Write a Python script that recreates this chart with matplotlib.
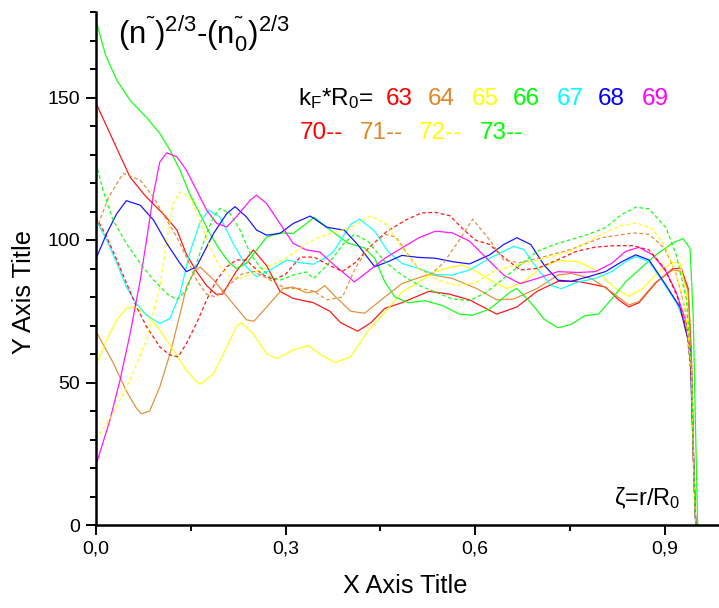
import matplotlib
matplotlib.use('Agg')
import matplotlib.pyplot as plt
from matplotlib.ticker import FixedLocator, FuncFormatter

plt.rcParams['font.family'] = ['Liberation Sans', 'DejaVu Sans']
plt.rcParams['mathtext.fontset'] = 'custom'
plt.rcParams['mathtext.rm'] = 'Liberation Sans'
plt.rcParams['mathtext.it'] = 'Liberation Sans'
plt.rcParams['mathtext.bf'] = 'Liberation Sans:bold'

# ---------------- data (xi = r/R0, value) ----------------
labels = ['63', '64', '65', '66', '67', '68', '69', '70', '71', '72', '73']
colors = ['#FF0000', '#E0862A', '#FFFF00', '#00FF00', '#00FFFF', '#0000FF', '#FF00FF',
          '#FF0000', '#E0862A', '#FFFF00', '#00FF00']
dashed = [False] * 7 + [True] * 4

xi63 = [0, 0.027, 0.054, 0.080, 0.107, 0.128, 0.143, 0.159, 0.175, 0.190, 0.200, 0.222, 0.249, 0.270, 0.291, 0.312, 0.344, 0.370, 0.387, 0.414, 0.435, 0.457, 0.484, 0.527, 0.559, 0.591, 0.634, 0.666, 0.698, 0.731, 0.763, 0.806, 0.827, 0.843, 0.859, 0.886, 0.913, 0.926, 0.937, 0.942, 0.946, 0.949]
v63 = [148, 135, 122, 115, 109, 103.5, 95, 89, 84, 81, 81, 89, 96.5, 91, 82, 79.5, 78, 75, 71, 68, 71, 76, 78, 82, 81, 79, 74, 76.5, 82, 85.5, 85.5, 83.5, 79, 76.5, 78, 85, 90, 90, 83, 60, 20, 0]

xi64 = [0, 0.027, 0.048, 0.064, 0.072, 0.085, 0.101, 0.117, 0.133, 0.143, 0.157, 0.165, 0.186, 0.212, 0.238, 0.250, 0.270, 0.296, 0.312, 0.333, 0.350, 0.362, 0.377, 0.403, 0.425, 0.457, 0.484, 0.527, 0.564, 0.602, 0.634, 0.661, 0.698, 0.731, 0.752, 0.784, 0.816, 0.843, 0.859, 0.886, 0.913, 0.926, 0.937, 0.942, 0.946, 0.949]
v64 = [68, 57, 47, 41, 39, 40, 48.5, 60, 74, 83.5, 89.5, 90.5, 86, 79, 72, 71.5, 76.5, 83, 83.5, 81.5, 82, 84, 80.5, 75, 74.3, 80, 84.7, 88, 86.5, 83, 79, 79.3, 83, 87.7, 88.3, 86.5, 81.7, 77.2, 78.4, 85.3, 89.5, 89, 82, 58, 18, 0]

xi65 = [0, 0.017, 0.033, 0.048, 0.059, 0.080, 0.101, 0.122, 0.143, 0.159, 0.165, 0.186, 0.207, 0.222, 0.230, 0.249, 0.270, 0.286, 0.312, 0.336, 0.354, 0.378, 0.403, 0.430, 0.457, 0.484, 0.511, 0.537, 0.564, 0.580, 0.602, 0.629, 0.650, 0.677, 0.704, 0.731, 0.763, 0.790, 0.822, 0.843, 0.865, 0.891, 0.913, 0.924, 0.935, 0.941, 0.946, 0.949]
v65 = [56, 65, 72, 76, 76.6, 74, 68.4, 61.4, 54.3, 50.3, 49.4, 53, 62.5, 69.6, 71, 67, 60, 58.4, 61.4, 63, 60, 57, 59, 68, 74.6, 81.7, 85.3, 88.9, 90.6, 91.2, 88.9, 85.3, 83, 85.3, 90.3, 92.8, 92.4, 89.5, 83, 80.2, 83, 89, 92.2, 91.8, 80, 55, 18, 0]

xi66 = [0, 0.015, 0.033, 0.054, 0.080, 0.101, 0.117, 0.133, 0.148, 0.164, 0.180, 0.196, 0.212, 0.222, 0.238, 0.254, 0.270, 0.291, 0.312, 0.333, 0.345, 0.366, 0.398, 0.425, 0.441, 0.457, 0.473, 0.494, 0.521, 0.548, 0.575, 0.596, 0.623, 0.655, 0.666, 0.688, 0.709, 0.731, 0.752, 0.773, 0.795, 0.816, 0.838, 0.859, 0.886, 0.913, 0.929, 0.940, 0.945, 0.949, 0.952]
v66 = [177, 165, 156, 149, 143, 137.4, 131.5, 124.5, 116.3, 109.3, 102.3, 96.5, 91.8, 90, 91.8, 96.5, 101, 102.5, 102.3, 105.8, 108, 104.3, 99, 97.2, 93.6, 85.3, 80, 78, 78.7, 77, 74, 73.6, 75.8, 81.7, 83, 78, 72.2, 69.2, 70.4, 73.4, 74, 79.3, 85.3, 89.5, 94.8, 99, 100.5, 97, 73, 30, 0]

xi67 = [0, 0.017, 0.033, 0.048, 0.064, 0.080, 0.101, 0.117, 0.133, 0.148, 0.164, 0.178, 0.196, 0.217, 0.238, 0.254, 0.275, 0.302, 0.323, 0.344, 0.365, 0.376, 0.403, 0.417, 0.441, 0.462, 0.484, 0.510, 0.537, 0.564, 0.591, 0.623, 0.661, 0.677, 0.698, 0.720, 0.736, 0.763, 0.790, 0.816, 0.838, 0.854, 0.875, 0.897, 0.918, 0.934, 0.942, 0.946, 0.949]
v67 = [107, 100, 91.8, 83.6, 77.7, 73.6, 70.7, 72.5, 81.2, 95.3, 105.8, 110.5, 108.1, 98.8, 90.6, 87.1, 89.4, 93, 92, 91.5, 94, 96, 105.5, 107.3, 103.1, 96, 91.8, 90, 87.9, 87.7, 89.5, 93.6, 97.8, 96.6, 90, 84.1, 82.9, 85.3, 86.5, 88.9, 92.4, 94.2, 92.4, 85.3, 78.1, 69.8, 55, 18, 0]

xi68 = [0, 0.017, 0.033, 0.048, 0.070, 0.091, 0.112, 0.133, 0.143, 0.159, 0.186, 0.207, 0.220, 0.238, 0.254, 0.270, 0.291, 0.312, 0.339, 0.365, 0.393, 0.414, 0.441, 0.462, 0.484, 0.510, 0.537, 0.564, 0.591, 0.623, 0.645, 0.666, 0.688, 0.709, 0.731, 0.752, 0.779, 0.806, 0.832, 0.854, 0.875, 0.902, 0.924, 0.940, 0.945, 0.949]
v68 = [93.5, 102.3, 109.3, 113.8, 112.2, 107, 98.8, 91.8, 88.9, 90.6, 102.3, 109.3, 111.7, 108.1, 103.5, 101.7, 102.3, 105.8, 108.4, 104.5, 103.4, 98.4, 90.6, 92.4, 94.6, 93.9, 93.6, 92.4, 91.6, 94.8, 98.4, 100.8, 98.4, 91.2, 85.9, 85.5, 87.1, 88.9, 92.4, 94.8, 93, 84.1, 76.4, 62, 25, 0]

xi69 = [0, 0.022, 0.038, 0.054, 0.070, 0.080, 0.091, 0.101, 0.112, 0.128, 0.143, 0.159, 0.175, 0.191, 0.207, 0.222, 0.244, 0.254, 0.270, 0.291, 0.312, 0.333, 0.354, 0.377, 0.409, 0.430, 0.457, 0.484, 0.511, 0.537, 0.564, 0.591, 0.618, 0.645, 0.671, 0.698, 0.731, 0.763, 0.790, 0.816, 0.838, 0.859, 0.881, 0.902, 0.918, 0.934, 0.942, 0.946, 0.949]
v69 = [21, 36.8, 50.8, 67.2, 85.9, 100, 116.3, 127.4, 130.6, 129.2, 124.5, 117.5, 110.5, 105.8, 104.6, 108.1, 114, 115.7, 112.8, 105.8, 98.8, 96.5, 95.8, 91.2, 85.3, 88.9, 93.6, 97.2, 100.8, 103.1, 102.5, 99.6, 93.6, 87.7, 84.7, 86.5, 88.9, 88.6, 88.9, 91.8, 96, 97.4, 94.8, 88.9, 81.7, 71, 55, 18, 0]

xi70 = [0, 0.017, 0.033, 0.048, 0.064, 0.080, 0.101, 0.117, 0.130, 0.143, 0.159, 0.175, 0.191, 0.207, 0.222, 0.238, 0.249, 0.265, 0.281, 0.300, 0.323, 0.345, 0.370, 0.390, 0.410, 0.435, 0.460, 0.490, 0.515, 0.537, 0.560, 0.580, 0.600, 0.623, 0.645, 0.671, 0.698, 0.730, 0.760, 0.790, 0.820, 0.850, 0.875, 0.900, 0.920, 0.935, 0.942, 0.946, 0.949]
v70 = [108, 101, 93, 85, 76.6, 69.6, 62.5, 59.6, 59, 63.7, 70.7, 79, 86, 90.6, 93, 93, 90.6, 87.7, 86, 88, 94, 94, 91, 89, 92, 98, 103, 107, 109.5, 109.7, 108.5, 104, 100, 98.4, 94, 89.5, 90, 93, 96, 97.5, 98, 98, 96.5, 90, 80, 68, 52, 16, 0]

xi71 = [0, 0.020, 0.043, 0.070, 0.091, 0.112, 0.128, 0.143, 0.159, 0.175, 0.190, 0.210, 0.230, 0.250, 0.275, 0.300, 0.323, 0.345, 0.366, 0.390, 0.410, 0.430, 0.457, 0.475, 0.490, 0.510, 0.530, 0.550, 0.575, 0.596, 0.623, 0.645, 0.670, 0.700, 0.750, 0.800, 0.850, 0.875, 0.900, 0.918, 0.932, 0.942, 0.946, 0.949]
v71 = [103.5, 115, 123.4, 121, 115, 107, 101, 94, 86, 81, 80, 84, 88, 89, 86, 83, 83, 82, 79, 80, 90, 97, 102, 101, 96, 90, 88, 92, 100, 107.3, 100, 93, 92, 93.6, 96.6, 100.8, 102.5, 102, 97, 88, 76, 55, 17, 0]

xi72 = [0, 0.027, 0.054, 0.080, 0.101, 0.112, 0.122, 0.133, 0.148, 0.164, 0.180, 0.196, 0.212, 0.228, 0.249, 0.270, 0.291, 0.312, 0.333, 0.354, 0.370, 0.400, 0.435, 0.460, 0.484, 0.510, 0.540, 0.570, 0.600, 0.630, 0.660, 0.700, 0.750, 0.800, 0.830, 0.855, 0.880, 0.900, 0.918, 0.932, 0.942, 0.946, 0.949]
v72 = [30, 39, 51, 65, 83.6, 100, 112.8, 116.9, 115.2, 107, 97.6, 90.6, 87.1, 86.5, 88.3, 90.6, 92.4, 95.3, 98.8, 101, 102.3, 104, 108.5, 105.5, 97.2, 90, 86, 84, 85, 89, 91, 93, 96, 102, 105, 106, 104, 98, 88, 76, 55, 17, 0]

xi73 = [0, 0.011, 0.027, 0.048, 0.070, 0.091, 0.112, 0.128, 0.143, 0.159, 0.175, 0.186, 0.196, 0.212, 0.228, 0.244, 0.259, 0.275, 0.291, 0.312, 0.333, 0.344, 0.366, 0.393, 0.409, 0.430, 0.457, 0.484, 0.511, 0.537, 0.564, 0.591, 0.618, 0.645, 0.671, 0.698, 0.725, 0.752, 0.779, 0.806, 0.832, 0.854, 0.875, 0.902, 0.918, 0.934, 0.942, 0.946, 0.949]
v73 = [127, 117.5, 107, 98.8, 91.8, 86, 81.2, 79.1, 82.4, 91.8, 102.3, 108.1, 111.1, 109.3, 103.5, 95.3, 90.6, 87.1, 85.9, 87.7, 88.8, 86.5, 91.2, 99, 102, 99.6, 92.4, 87.7, 84.1, 81.7, 79.3, 78.7, 81.7, 86.5, 91.2, 96, 98.4, 100.2, 102, 104.3, 109, 111.5, 110.9, 104.3, 94.8, 79.3, 57, 18, 0]

xs = [xi63, xi64, xi65, xi66, xi67, xi68, xi69, xi70, xi71, xi72, xi73]
ys = [v63, v64, v65, v66, v67, v68, v69, v70, v71, v72, v73]

x_ticks = [0.0, 0.3, 0.6, 0.9]
x_minor = [0.15, 0.45, 0.75]
y_ticks = [0, 50, 100, 150]
y_minor = [10, 20, 30, 40, 60, 70, 80, 90, 110, 120, 130, 140, 160, 170, 180]

# ---------------- figure ----------------
W, H = 719, 608
fig = plt.figure(figsize=(W / 100, H / 100), dpi=100)
ax = fig.add_axes([96 / W, 83 / H, 623 / W, 513 / H])

for x, y, c, d in zip(xs, ys, colors, dashed):
    if d:
        ax.plot(x, y, color=c, lw=0.9, dashes=(3.0, 2.0), alpha=0.9)
    else:
        ax.plot(x, y, color=c, lw=0.9, alpha=0.9)

ax.set_xlim(0, 623 / 632)
ax.set_ylim(0, 180)
for s in ['top', 'right']:
    ax.spines[s].set_visible(False)
for s in ['left', 'bottom']:
    ax.spines[s].set_linewidth(1.8)

ax.xaxis.set_major_locator(FixedLocator(x_ticks))
ax.xaxis.set_minor_locator(FixedLocator(x_minor))
ax.yaxis.set_major_locator(FixedLocator(y_ticks))
ax.yaxis.set_minor_locator(FixedLocator(y_minor))
ax.xaxis.set_major_formatter(FuncFormatter(lambda v, p: f'{v:.1f}'.replace('.', ',')))
ax.yaxis.set_major_formatter(FuncFormatter(lambda v, p: f'{v:.0f}'))
ax.tick_params(which='major', direction='out', length=7.2, width=1.4, labelsize=14, pad=4)
ax.tick_params(which='minor', direction='out', length=4.3, width=1.4)

def ftxt(x, y, s, **kw):
    fig.text(x / W, 1 - y / H, s, **kw)

ftxt(24, 292, 'Y Axis Title', rotation=90, ha='center', va='center', fontsize=18.3)
ftxt(405, 586, 'X Axis Title', ha='center', va='center', fontsize=18.3)

title = '(n$^{\u02dc}$)$^{2/3}$-(n$^{\u02dc}_{0}$)$^{2/3}$'
ftxt(118, 43, title, ha='left', va='baseline', fontsize=22.5)

ftxt(298, 105, 'k$_F$*R$_0$=', ha='left', va='baseline', fontsize=17.5)
row1 = [('63', 386), ('64', 428), ('65', 472), ('66', 513), ('67', 557), ('68', 598), ('69', 642)]
for (t, xp), c in zip(row1, colors[:7]):
    ftxt(xp, 105, t, color=c, ha='left', va='baseline', fontsize=17.5)
row2 = [('70--', 300), ('71--', 360), ('72--', 419), ('73--', 480)]
for (t, xp), c in zip(row2, colors[7:]):
    ftxt(xp, 139, t, color=c, ha='left', va='baseline', fontsize=17.5)

ftxt(614, 505, '$\\zeta$=r/R$_0$', ha='left', va='baseline', fontsize=17)

fig.savefig('out.png', dpi=100)
